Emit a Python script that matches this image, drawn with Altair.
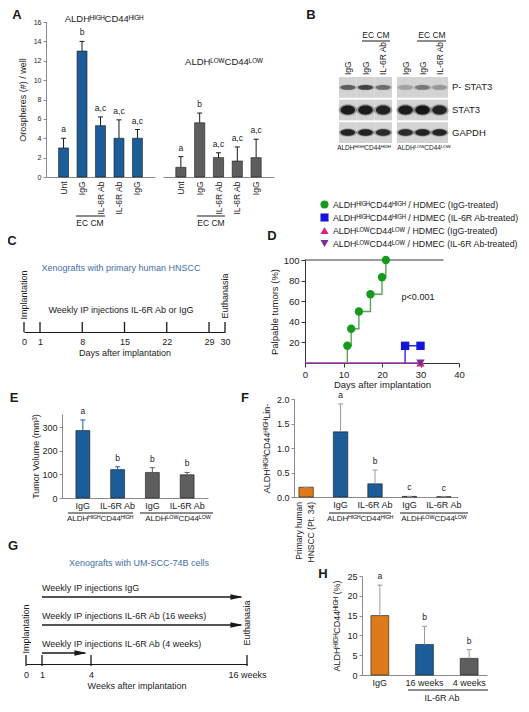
import altair as alt
import pandas as pd

FONT = "Liberation Sans, Arial, DejaVu Sans, sans-serif"
W, H = 513, 696


def P(v):
    return v - 8


BLUE = "#1c5d99"
GREY = "#5e5e5e"
ORANGE = "#de7a1b"
ERRG = "#9a9a9a"
INK = "#1a1a1a"
AX = "#8a8a8a"

HI = "ALDH\u1d34\u1d35\u1d33\u1d34CD44\u1d34\u1d35\u1d33\u1d34"
LO = "ALDH\u1d38\u1d3c\u1d42CD44\u1d38\u1d3c\u1d42"

# ---------------- data ----------------
a_cats = ["Unt", "IgG", "IL-6R Ab", " IL-6R Ab", " IgG"]
a_high = [3.0, 13.0, 5.3, 4.0, 4.0]
a_high_err = [1.0, 1.0, 0.9, 1.9, 0.9]
a_low = [1.0, 5.6, 2.0, 1.65, 2.0]
a_low_err = [1.1, 1.0, 0.5, 1.45, 1.9]
a_letters = ["a", "b", "a,c", "a,c", "a,c"]

b_lanes = ["IgG", "IgG ", "IL-6R Ab"]
b_rows = ["P- STAT3", "STAT3", "GAPDH"]
b_high = [[0.55, 0.70, 0.45], [0.95, 0.95, 0.90], [0.90, 0.90, 0.85]]
b_low = [[0.20, 0.40, 0.25], [0.95, 1.00, 0.90], [0.85, 0.90, 0.90]]

c_days = [0, 1, 8, 15, 22, 29, 30]

d_groups = [HI + " / HDMEC (IgG-treated)", HI + " / HDMEC (IL-6R Ab-treated)",
            LO + " / HDMEC (IgG-treated)", LO + " / HDMEC (IL-6R Ab-treated)"]
d_igg_days = [11, 12, 14, 17, 20, 21]
d_igg_pct = [16.7, 33.3, 50.0, 66.7, 83.3, 100.0]
d_ab_days = [26, 30]
d_ab_pct = [16.7, 16.7]
d_low_days = [30]
d_low_pct = [0.0]
d_baseline_days = [0, 30]
d_ref_days = [0, 36]

e_cats = ["IgG", "IL-6R Ab", " IgG", " IL-6R Ab"]
e_vals = [285, 120, 108, 98]
e_err = [45, 12, 20, 10]
e_letters = ["a", "b", "b", "b"]

f_cats = ["Primary", "IgG", "IL-6R Ab", " IgG", " IL-6R Ab"]
f_vals = [0.20, 1.33, 0.27, 0.012, 0.006]
f_err = [0.0, 0.57, 0.28, 0.0, 0.0]
f_letters = ["", "a", "b", "c", "c"]

g_weeks = [0, 1, 4, 16]
g_arrows = ["Weekly IP injections IgG",
            "Weekly IP injections IL-6R Ab (16 weeks)",
            "Weekly IP injections IL-6R Ab (4 weeks)"]
g_start = [1, 1, 1]
g_end = [16, 16, 4]

h_cats = ["IgG", "16 weeks", "4 weeks"]
h_vals = [15.0, 7.7, 4.2]
h_err = [7.7, 4.6, 2.2]
h_letters = ["a", "b", "b"]


# ---------------- helpers ----------------
def bar_panel(cats, vals, errs, letters, colors, xr, pi, po, ydom, yr,
              yaxis, xaxis, err_color=None, letter_size=8.5, cap=5):
    df = pd.DataFrame({"cat": cats, "v": vals,
                       "top": [v + e for v, e in zip(vals, errs)],
                       "lab": letters})

    def xs():
        return alt.Scale(type="band", domain=cats, range=[P(xr[0]), P(xr[1])],
                         paddingInner=pi, paddingOuter=po)

    def ys():
        return alt.Scale(domain=ydom, range=[P(yr[0]), P(yr[1])], nice=False, zero=False)

    def cs():
        return alt.Scale(domain=cats, range=colors)

    base = alt.Chart(df)
    bars = base.mark_bar(stroke=INK, strokeWidth=0.6).encode(
        x=alt.X("cat:N", scale=xs(), axis=xaxis),
        y=alt.Y("v:Q", scale=ys(), axis=yaxis),
        color=alt.Color("cat:N", scale=cs(), legend=None))

    def ec():
        if err_color is None:
            return alt.Color("cat:N", scale=cs(), legend=None)
        return alt.value(err_color)

    err = base.mark_rule(strokeWidth=1).encode(
        x=alt.X("cat:N", scale=xs(), axis=None),
        y=alt.Y("v:Q", scale=ys(), axis=None), y2="top:Q", color=ec())
    caps = base.mark_tick(size=cap, thickness=1, opacity=1).encode(
        x=alt.X("cat:N", scale=xs(), axis=None),
        y=alt.Y("top:Q", scale=ys(), axis=None), color=ec())
    lets = base.mark_text(fontSize=letter_size, baseline="bottom", dy=-4,
                          font=FONT, color=INK).encode(
        x=alt.X("cat:N", scale=xs(), axis=None),
        y=alt.Y("top:Q", scale=ys(), axis=None), text="lab:N")
    return [bars, err, caps, lets]


def texts(rows, size, angle=0, align="center", baseline="middle",
          color=INK, weight="normal"):
    df = pd.DataFrame(rows, columns=["t", "x", "y"])
    df["x"] = df["x"] - 8
    df["y"] = df["y"] - 8
    return alt.Chart(df).mark_text(fontSize=size, angle=angle, align=align,
                                   baseline=baseline, color=color,
                                   fontWeight=weight, font=FONT).encode(
        x=alt.X("x:Q", scale=None, axis=None),
        y=alt.Y("y:Q", scale=None, axis=None), text="t:N")


def hlines(rows, color=INK, width=1.0):
    df = pd.DataFrame(rows, columns=["x", "x2", "y"]) - 8
    return alt.Chart(df).mark_rule(color=color, strokeWidth=width).encode(
        x=alt.X("x:Q", scale=None, axis=None), x2="x2:Q",
        y=alt.Y("y:Q", scale=None, axis=None))


def yax(off_x, values, title, lsize=9, tsize=9, tpad=4, color=AX):
    return alt.Axis(orient="left", offset=-P(off_x), values=values, tickSize=3,
                    labelFontSize=lsize, labelPadding=2, title=title,
                    titleFontSize=tsize, titlePadding=tpad, domainColor=color,
                    tickColor=color, grid=False)


def xax(off_y, angle=0, lsize=9, pad=3, expr=None):
    kw = dict(orient="bottom", offset=P(off_y) - H, labelAngle=angle, ticks=False,
              labelPadding=pad, labelFontSize=lsize, domainColor=AX, title=None,
              grid=False)
    if expr:
        kw["labelExpr"] = expr
    return alt.Axis(**kw)


layers = []

# ---------------- A ----------------
layers += bar_panel(a_cats, a_high, a_high_err, a_letters, [BLUE] * 5,
                    (46, 155), 0.46, 0.68, [0, 16], (177, 22),
                    yax(46, list(range(0, 17, 2)), "Orospheres (#) / well",
                        lsize=7, tsize=9, tpad=6),
                    xax(177, 270, 8.5, 4), err_color=INK)
layers += bar_panel(a_cats, a_low, a_low_err, a_letters, [GREY] * 5,
                    (163, 274), 0.46, 0.68, [0, 16], (177, 22),
                    None, xax(177, 270, 8.5, 4), err_color=INK)


# ---------------- B (blot) ----------------
def blot(intens, x0, x1, with_rows):
    recs = []
    for ri, r in enumerate(b_rows):
        for li, l in enumerate(b_lanes):
            recs.append({"lane": l, "row": r, "v": intens[ri][li]})
    df = pd.DataFrame(recs)

    def X():
        return alt.X("lane:N", scale=alt.Scale(type="band", domain=b_lanes,
                                               range=[P(x0), P(x1)],
                                               paddingInner=0, paddingOuter=0), axis=None)

    def Y():
        return alt.Y("row:N", scale=alt.Scale(type="band", domain=b_rows,
                                              range=[P(77), P(143)],
                                              paddingInner=0.08, paddingOuter=0), axis=None)

    def S():
        return alt.Shape("row:N", scale=alt.Scale(domain=b_rows, range=[
            "M -1 0 A 1 0.32 0 1 0 1 0 A 1 0.32 0 1 0 -1 0 Z",
            "M -1 0 A 1 0.62 0 1 0 1 0 A 1 0.62 0 1 0 -1 0 Z",
            "M -1 0 A 1 0.45 0 1 0 1 0 A 1 0.45 0 1 0 -1 0 Z"]), legend=None)

    base = alt.Chart(df)
    bg = base.mark_rect(color="#d3d3d3").encode(x=X(), y=Y())
    halo = base.transform_calculate(o="datum.v * 0.35").mark_point(
        filled=True, color="#202020", size=340, strokeWidth=0).encode(
        x=X(), y=Y(), shape=S(), opacity=alt.Opacity("o:Q", scale=None))
    core = base.mark_point(filled=True, color="#151515", size=210, strokeWidth=0).encode(
        x=X(), y=Y(), shape=S(), opacity=alt.Opacity("v:Q", scale=None))
    lab = alt.Chart(pd.DataFrame({"lane": b_lanes})).mark_text(
        angle=270, align="left", baseline="middle", fontSize=8.5, font=FONT,
        color=INK).encode(x=X(), y=alt.value(P(75)), text="lane:N")
    parts = [bg, halo, core, lab]
    if with_rows:
        rl = alt.Chart(pd.DataFrame({"row": b_rows})).mark_text(
            align="left", baseline="middle", fontSize=9.5, font=FONT, color=INK).encode(
            y=Y(), x=alt.value(P(452)), text="row:N")
        parts.append(rl)
    return parts


layers += blot(b_high, 339, 392, False)
layers += blot(b_low, 397, 448, True)

# ---------------- C (timeline) ----------------
c_x = alt.Scale(domain=[0, 1, 29, 30], range=[P(24), P(40), P(209), P(225)],
                nice=False, zero=False)
layers.append(alt.Chart(pd.DataFrame({"day": c_days})).mark_rule(
    color=INK, strokeWidth=1.3).encode(
    x=alt.X("day:Q", scale=c_x, axis=alt.Axis(
        orient="bottom", offset=P(332) - H, values=c_days, ticks=False,
        labelFlush=False, labelOverlap=False, domainColor=INK, domainWidth=1.2,
        labelFontSize=9, labelPadding=5, title="Days after implantation",
        titleFontSize=9, titlePadding=2, grid=False)),
    y=alt.value(P(322)), y2=alt.value(P(332))))


# ---------------- D (survival) ----------------
def dX(f, axis=None):
    return alt.X(f, scale=alt.Scale(domain=[0, 40], range=[P(305), P(459)],
                                    nice=False, zero=False), axis=axis)


def dY(f, axis=None):
    return alt.Y(f, scale=alt.Scale(domain=[0, 100], range=[P(363), P(260)],
                                    nice=False, zero=False), axis=axis)


d_ref = alt.Chart(pd.DataFrame({"x": [d_ref_days[0]], "x2": [d_ref_days[1]],
                                "y": [100]})).mark_rule(
    color="#3a3a3a", strokeWidth=1.2).encode(x=dX("x:Q"), x2="x2:Q", y=dY("y:Q"))
d_base = alt.Chart(pd.DataFrame({"day": d_baseline_days, "pct": [0, 0]})).mark_line(
    color="#9b3aa6", strokeWidth=1.4).encode(x=dX("day:Q"), y=dY("pct:Q"))
gdf = pd.DataFrame({"day": [d_igg_days[0]] + d_igg_days, "pct": [0.0] + d_igg_pct})
gdf["i"] = range(len(gdf))
d_green = alt.Chart(gdf).mark_line(interpolate="step-after", color="#5aa55a",
                                   strokeWidth=1.4).encode(
    x=dX("day:Q"), y=dY("pct:Q"), order="i:Q")
bdf = pd.DataFrame({"day": [d_ab_days[0]] + d_ab_days, "pct": [0.0] + d_ab_pct})
bdf["i"] = range(len(bdf))
d_blue = alt.Chart(bdf).mark_line(interpolate="step-after", color="#2a2ae0",
                                  strokeWidth=1.4).encode(
    x=dX("day:Q"), y=dY("pct:Q"), order="i:Q")
pdf = pd.DataFrame({
    "day": d_igg_days + d_ab_days + d_low_days + d_low_days,
    "pct": d_igg_pct + d_ab_pct + d_low_pct + d_low_pct,
    "grp": [d_groups[0]] * len(d_igg_days) + [d_groups[1]] * len(d_ab_days)
    + [d_groups[2]] * len(d_low_days) + [d_groups[3]] * len(d_low_days)})
leg = alt.Legend(orient="none", legendX=P(320), legendY=P(200), title=None,
                 labelFontSize=8.8, labelFont=FONT, symbolSize=65, rowPadding=3,
                 labelLimit=400, labelOffset=4, symbolStrokeWidth=0, labelColor=INK)
d_pts = alt.Chart(pdf).mark_point(filled=True, opacity=1, size=70, strokeWidth=0).encode(
    x=dX("day:Q", alt.Axis(orient="bottom", offset=P(363) - H, values=[0, 10, 20, 30, 40],
                           labelFlush=False, tickSize=4, labelFontSize=9.5, labelPadding=2,
                           title="Days after implantation", titleFontSize=9.5,
                           titlePadding=1, domainColor="#333", tickColor="#333", grid=False)),
    y=dY("pct:Q", alt.Axis(orient="left", offset=-P(305), values=[20, 40, 60, 80, 100],
                           tickSize=4, labelFontSize=9.5, labelPadding=2,
                           title="Palpable tumors (%)", titleFontSize=9.5,
                           titlePadding=4, domainColor="#333", tickColor="#333", grid=False)),
    color=alt.Color("grp:N", scale=alt.Scale(domain=d_groups, range=[
        "#169b1c", "#1414dc", "#e0207f", "#7a2d96"]), legend=leg),
    shape=alt.Shape("grp:N", scale=alt.Scale(domain=d_groups, range=[
        "circle", "square", "triangle-up", "triangle-down"]), legend=leg))
layers += [d_ref, d_base, d_green, d_blue, d_pts]

# ---------------- E ----------------
layers += bar_panel(e_cats, e_vals, e_err, e_letters, [BLUE, BLUE, GREY, GREY],
                    (62, 208), 0.6, 0.4, [0, 355], (498, 414),
                    yax(62, [0, 100, 200, 300], "Tumor Volume (mm\u00b3)", lsize=9,
                        tsize=9, tpad=1),
                    xax(498, 0, 9, 3))

# ---------------- F ----------------
layers += bar_panel(f_cats, f_vals, f_err, f_letters,
                    [ORANGE, BLUE, BLUE, GREY, GREY],
                    (292, 458), 0.58, 0.2, [0, 2], (497, 399),
                    yax(294, [0, 0.5, 1, 1.5, 2], HI + "Lin-", lsize=9, tsize=9,
                        tpad=5),
                    xax(497, 0, 9, 3, "datum.value == 'Primary' ? '' : datum.label"),
                    err_color=ERRG)


# ---------------- G (timeline) ----------------
def gX(f, axis=None):
    return alt.X(f, scale=alt.Scale(domain=[0, 1, 4, 16],
                                    range=[P(26), P(42), P(91), P(247)],
                                    nice=False, zero=False), axis=axis)


layers.append(alt.Chart(pd.DataFrame({"wk": g_weeks})).mark_rule(
    color=INK, strokeWidth=1.3).encode(
    x=gX("wk:Q", alt.Axis(
        orient="bottom", offset=P(664) - H, values=g_weeks, ticks=False,
        labelFlush=False, labelOverlap=False, domainColor=INK, domainWidth=1.2,
        labelFontSize=9, labelPadding=6,
        labelExpr="datum.value == 16 ? '16 weeks' : datum.label",
        title="Weeks after implantation", titleFontSize=9, titlePadding=2, grid=False)),
    y=alt.value(P(655)), y2=alt.value(P(666))))
gdf2 = pd.DataFrame({"lab": g_arrows, "s": g_start, "e": g_end})


def GY():
    return alt.Y("lab:N", scale=alt.Scale(type="point", domain=g_arrows,
                                          range=[P(597), P(653)], padding=0), axis=None)


g_shaft = alt.Chart(gdf2).mark_rule(color=INK, strokeWidth=1.3, x2Offset=-6).encode(
    x=gX("s:Q"), x2="e:Q", y=GY())
g_head = alt.Chart(gdf2).mark_point(filled=True, opacity=1, color=INK, size=160,
                                    strokeWidth=0, xOffset=-4,
                                    shape="M 0 0 L -2 -0.45 L -2 0.45 Z").encode(
    x=gX("e:Q"), y=GY())
g_lab = alt.Chart(gdf2).mark_text(align="left", baseline="bottom", dy=-4, fontSize=9,
                                  font=FONT, color=INK).encode(
    x=gX("s:Q"), y=GY(), text="lab:N")
layers += [g_shaft, g_head, g_lab]

# ---------------- H ----------------
layers += bar_panel(h_cats, h_vals, h_err, h_letters, [ORANGE, BLUE, GREY],
                    (362, 487), 0.6, 0.2, [0, 25], (675, 576),
                    yax(362, [0, 5, 10, 15, 20, 25], HI + " (%)", lsize=9, tsize=9,
                        tpad=5),
                    xax(675, 0, 9, 3), err_color=ERRG)

# ---------------- annotations ----------------
layers.append(texts([("A", 17, 15), ("B", 311, 15), ("C", 12, 241), ("D", 272, 236),
                     ("E", 14, 398), ("F", 245, 398), ("G", 13, 546), ("H", 323, 574)],
                    13, weight="bold"))
layers.append(texts([(HI, 104, 19), (LO, 224, 62)], 9.5))
layers.append(texts([("EC CM", 90, 223), ("EC CM", 211, 223),
                     ("EC CM", 376, 35), ("EC CM", 432, 35)], 8.5))
layers.append(texts([(HI, 364, 148), (LO, 424, 148)], 6.5))
layers.append(texts([("Xenografts with primary human HNSCC", 121, 268),
                     ("Xenografts with UM-SCC-74B cells", 139, 563)], 9, color="#3f6fa6"))
layers.append(texts([("Weekly IP injections IL-6R Ab or IgG", 121, 310),
                     ("p<0.001", 418, 297), ("IL-6R Ab", 442, 698)], 9))
layers.append(texts([("Implantation", 24, 295), ("Euthanasia", 225, 296),
                     ("Implantation", 26, 629), ("Euthanasia", 247, 623)], 9, angle=270))
layers.append(texts([("Primary human", 299, 502), ("HNSCC (Pt. 34)", 311, 502)],
                    8.5, angle=270, align="right"))
layers.append(texts([(HI, 100, 519), (LO, 178, 519), (HI, 360, 519), (LO, 434, 519)], 8))
layers.append(hlines([(76, 105, 216), (197, 225, 216), (362, 390, 41), (417, 446, 41),
                      (68, 133, 513), (140, 213, 513), (329, 391, 513), (400, 468, 513),
                      (408, 488, 690)]))

chart = alt.layer(*layers).resolve_scale(
    x="independent", y="independent", color="independent", shape="independent"
).properties(
    width=W, height=H, autosize=alt.AutoSizeParams(type="none"), padding=0,
    background="white"
).configure_view(stroke=None).configure_axis(
    labelFont=FONT, titleFont=FONT, titleFontWeight="normal", labelColor="#222",
    titleColor="#222", grid=False
).configure_text(font=FONT)

chart.save("out.html", embed_options={"renderer": "svg", "actions": False})
